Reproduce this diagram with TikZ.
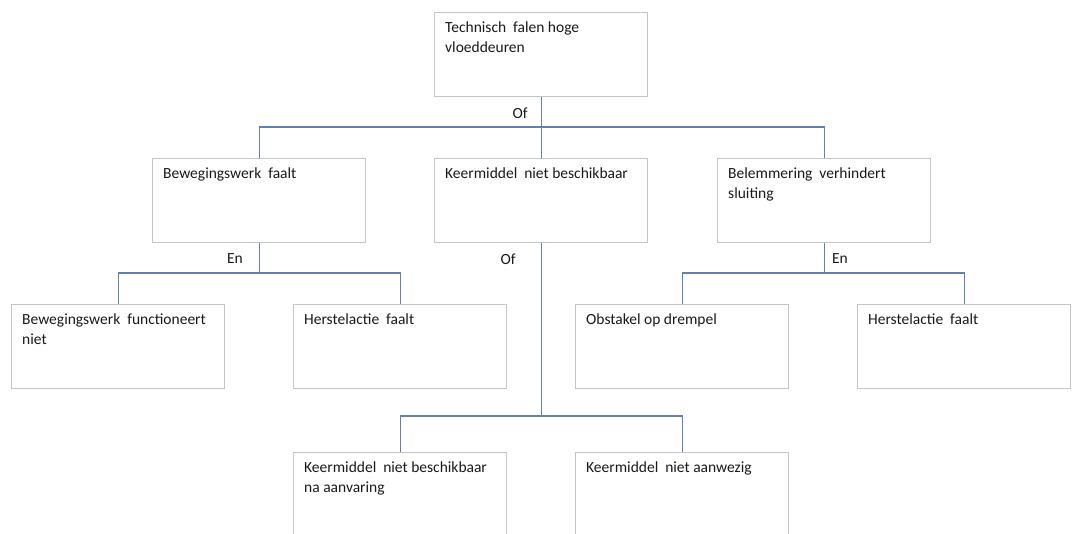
\documentclass[tikz,border=0pt]{standalone}
\usepackage{fontspec}
\setmainfont{Carlito}
\begin{document}
\begin{tikzpicture}[x=1pt,y=-1pt,
  box/.style={draw={rgb,255:red,196;green,196;blue,196}, line width=1.1pt, minimum width=213pt, minimum height=84pt, anchor=north west, inner sep=0pt},
  boxtext/.style={anchor=north west, align=left, inner sep=0pt, font=\fontsize{15.5}{20}\selectfont, text={rgb,255:red,25;green,25;blue,25}},
  conn/.style={draw={rgb,255:red,100;green,128;blue,176}, line width=1.1pt},
  gate/.style={font=\fontsize{15.5}{18}\selectfont, text={rgb,255:red,25;green,25;blue,25}}
]
\useasboundingbox (0,0) rectangle (1075,533);
\begin{scope}
\clip (0,0) rectangle (1075,533);
% boxes
\node[box] (top) at (434,12) {};
\node[box] (bw) at (152,158) {};
\node[box] (km) at (434,158) {};
\node[box] (bl) at (717,158) {};
\node[box] (bwf) at (11,304) {};
\node[box] (hf1) at (293,304) {};
\node[box] (ob) at (575,304) {};
\node[box] (hf2) at (857,304) {};
\node[box] (kmna) at (293,452) {};
\node[box] (kmaw) at (575,452) {};
% texts
\node[boxtext] (ttop) at ([shift={(11,10)}]top.north west) {Technisch\hspace{0.45em}falen hoge\\vloeddeuren};
\node[boxtext] (tbw) at ([shift={(11,10)}]bw.north west) {Bewegingswerk\hspace{0.45em}faalt};
\node[boxtext] (tkm) at ([shift={(11,10)}]km.north west) {Keermiddel\hspace{0.45em}niet beschikbaar};
\node[boxtext] (tbl) at ([shift={(11,10)}]bl.north west) {Belemmering\hspace{0.45em}verhindert\\sluiting};
\node[boxtext] (tbwf) at ([shift={(11,10)}]bwf.north west) {Bewegingswerk\hspace{0.45em}functioneert\\niet};
\node[boxtext] (thf1) at ([shift={(11,10)}]hf1.north west) {Herstelactie\hspace{0.45em}faalt};
\node[boxtext] (tob) at ([shift={(11,10)}]ob.north west) {Obstakel op drempel};
\node[boxtext] (thf2) at ([shift={(11,10)}]hf2.north west) {Herstelactie\hspace{0.45em}faalt};
\node[boxtext] (tkmna) at ([shift={(11,10)}]kmna.north west) {Keermiddel\hspace{0.45em}niet beschikbaar\\na aanvaring};
\node[boxtext] (tkmaw) at ([shift={(11,10)}]kmaw.north west) {Keermiddel\hspace{0.45em}niet aanwezig};
% junctions
\coordinate (j0) at (top.south |- 0,127);
\coordinate (j1) at (bw.south |- 0,273);
\coordinate (j2) at (km.south |- 0,416);
\coordinate (j3) at (bl.south |- 0,273);
% connectors
\draw[conn] (top.south) -- (j0);
\draw[conn] (bw.north) |- (j0) -| (bl.north);
\draw[conn] (j0) -- (km.north);
\draw[conn] (bw.south) -- (j1);
\draw[conn] (bwf.north) |- (j1) -| (hf1.north);
\draw[conn] (km.south) -- (j2);
\draw[conn] (kmna.north) |- (j2) -| (kmaw.north);
\draw[conn] (bl.south) -- (j3);
\draw[conn] (ob.north) |- (j3) -| (hf2.north);
% gate labels
\node[gate] (g0) at (520,113) {Of};
\node[gate] (g1) at (235,259) {En};
\node[gate] (g2) at (508,259) {Of};
\node[gate] (g3) at (840,259) {En};
\end{scope}
\end{tikzpicture}
\end{document}
